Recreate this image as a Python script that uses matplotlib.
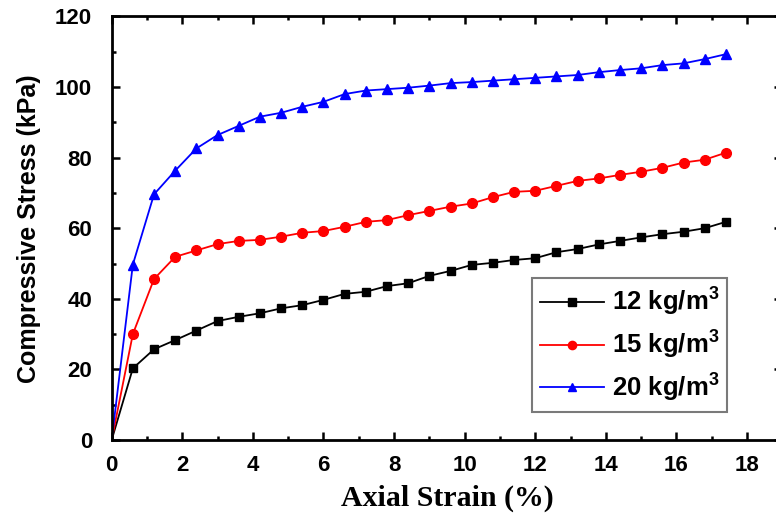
import matplotlib
matplotlib.use("Agg")
import matplotlib.pyplot as plt
from matplotlib.ticker import MultipleLocator

strain = [0, 0.6, 1.2, 1.8, 2.4, 3.0, 3.6, 4.2, 4.8, 5.4, 6.0, 6.6, 7.2, 7.8, 8.4,
          9.0, 9.6, 10.2, 10.8, 11.4, 12.0, 12.6, 13.2, 13.8, 14.4, 15.0, 15.6, 16.2, 16.8, 17.4]
stress_12 = [0, 20.3, 25.7, 28.3, 31.0, 33.7, 34.9, 35.9, 37.3, 38.2, 39.7, 41.4, 42.0, 43.6, 44.4,
             46.5, 47.9, 49.6, 50.2, 51.0, 51.5, 53.2, 54.1, 55.4, 56.4, 57.4, 58.3, 59.0, 60.0, 61.8]
stress_15 = [0, 30.0, 45.6, 51.9, 53.7, 55.5, 56.4, 56.7, 57.6, 58.7, 59.2, 60.4, 61.8, 62.3, 63.7,
             64.9, 66.1, 67.0, 68.8, 70.3, 70.6, 72.0, 73.4, 74.1, 75.1, 76.0, 77.1, 78.6, 79.4, 81.4]
stress_20 = [0, 49.7, 69.6, 76.3, 82.6, 86.4, 89.0, 91.6, 92.7, 94.4, 95.8, 98.0, 99.0, 99.4, 99.8,
             100.4, 101.1, 101.4, 101.8, 102.2, 102.6, 103.0, 103.4, 104.2, 104.8, 105.3, 106.2, 106.7, 107.9, 109.3]
labels = ["12 kg/m$^3$", "15 kg/m$^3$", "20 kg/m$^3$"]
x_label = "Axial Strain (%)"
y_label = "Compressive Stress (kPa)"

plt.rcParams['font.family'] = ['Liberation Sans', 'DejaVu Sans']
plt.rcParams['mathtext.fontset'] = 'custom'
plt.rcParams['mathtext.rm'] = 'Liberation Sans:bold'
plt.rcParams['mathtext.it'] = 'Liberation Sans:bold'
plt.rcParams['mathtext.bf'] = 'Liberation Sans:bold'

fig = plt.figure(figsize=(7.76, 5.13), dpi=100)
ax = fig.add_axes([0.1439, 0.1423, 0.8643, 0.8257])

skip0 = slice(1, None)
ax.plot(strain, stress_12, color='black', marker='s', markersize=6, linewidth=1.3,
        markevery=skip0, label=labels[0])
ax.plot(strain, stress_15, color='red', marker='o', markersize=7, linewidth=1.3,
        markevery=skip0, label=labels[1])
ax.plot(strain, stress_20, color='blue', marker='^', markersize=7.5, linewidth=1.3,
        markevery=skip0, label=labels[2])

ax.set_xlim(0, 19)
ax.set_ylim(0, 120)
ax.xaxis.set_major_locator(MultipleLocator(2))
ax.xaxis.set_minor_locator(MultipleLocator(1))
ax.yaxis.set_major_locator(MultipleLocator(20))
ax.yaxis.set_minor_locator(MultipleLocator(10))
ax.tick_params(which='both', direction='in', top=True, right=True, width=1.8)
ax.tick_params(which='major', length=6, labelsize=16)
ax.tick_params(axis='x', which='major', pad=11)
ax.tick_params(axis='y', which='major', pad=14)
ax.tick_params(which='minor', length=3)
for lab in ax.get_xticklabels() + ax.get_yticklabels():
    lab.set_fontweight('bold')
for s in ax.spines.values():
    s.set_linewidth(2)

ax.set_xlabel(x_label, family=['Liberation Serif'], fontweight='bold', fontsize=21.5, labelpad=6)
ax.set_ylabel(y_label, fontweight='bold', fontsize=18, labelpad=10)

leg = ax.legend(loc='upper left', bbox_to_anchor=(532 / 776, 1 - 278 / 513), bbox_transform=fig.transFigure,
                prop={'weight': 'bold', 'size': 18.5}, markerscale=0.85,
                frameon=True, fancybox=False, edgecolor='#7a7a7a', framealpha=1,
                handlelength=2.5, borderpad=0.3, labelspacing=0.42, handletextpad=0.3,
                borderaxespad=0)
leg.get_frame().set_linewidth(1.5)

fig.savefig("out.png", dpi=100)
